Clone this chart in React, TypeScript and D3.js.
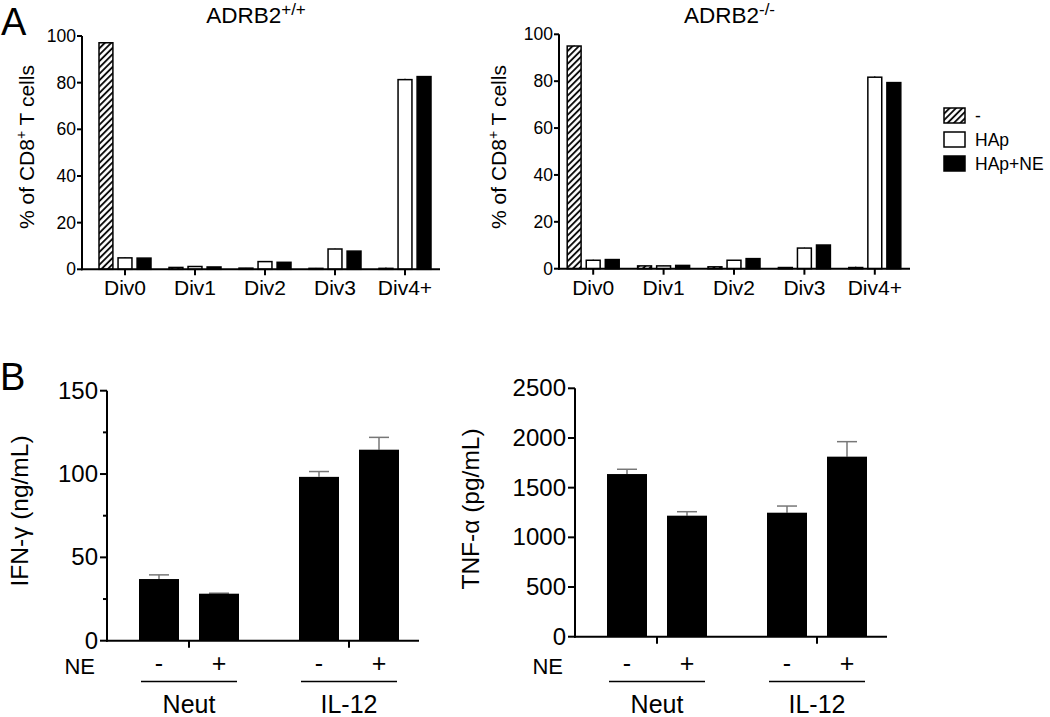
import * as d3 from "d3";

const FONT = "'Liberation Sans', Arial, Helvetica, sans-serif";

// ---- panel A data (% of CD8+ T cells per division) ----
const divisions = ["Div0", "Div1", "Div2", "Div3", "Div4+"];
const treatments = ["-", "HAp", "HAp+NE"];

const wtNone = [97.1, 0.8, 0.5, 0.4, 0.4];
const wtHAp = [4.9, 1.2, 3.3, 8.7, 81.3];
const wtHApNE = [4.8, 1.0, 3.0, 7.8, 82.6];
const wtErr = [0.3, 0.1, 0.1, 0.2, 0.4];

const koNone = [95.0, 1.2, 0.8, 0.5, 0.5];
const koHAp = [3.6, 1.2, 3.6, 8.8, 81.7];
const koHApNE = [3.9, 1.4, 4.3, 10.1, 79.4];
const koErr = [0.3, 0.1, 0.1, 0.2, 0.4];

const pctTicks = [0, 20, 40, 60, 80, 100];

// ---- panel B data (cytokines) ----
const groups = ["Neut", "IL-12"];
const neLevels = ["-", "+"];

const ifnMean = [37.0, 28.2, 98.3, 114.6];
const ifnErr = [2.5, 0.3, 3.2, 7.4];
const ifnTicks = [0, 50, 100, 150];
const ifnMinor = [25, 75, 125];

const tnfMean = [1637, 1218, 1248, 1812];
const tnfErr = [48, 40, 67, 151];
const tnfTicks = [0, 500, 1000, 1500, 2000, 2500];

const fills = ["url(#hatch)", "#fff", "#000"];

type DivProps = {
  title: string;
  sup: string;
  series: number[][];
  err: number[];
  axisX: number;
  bandStart: number;
  axisEnd: number;
  y0: number;
  yTop: number;
  labelX: number;
  labelY: number;
};

function DivPanel(p: DivProps) {
  const { title, sup, series, err, axisX, bandStart, axisEnd, y0, yTop, labelX, labelY } = p;
  const y = d3.scaleLinear().domain([0, 100]).range([y0, yTop]);
  const x = d3.scaleBand<string>().domain(divisions).range([bandStart, axisEnd]);
  const inner = d3.scaleBand<string>().domain(treatments).range([-26, 26]).paddingInner(0.27);
  const cx = (d: string) => (x(d) || 0) + x.bandwidth() / 2;
  const mid = (axisX + axisEnd) / 2 - 5;

  return (
    <g>
      <text x={mid} y={22.5} fontSize={22.5} textAnchor="middle" fontFamily={FONT}>
        {title}
        <tspan fontSize={17} dy={-8}>{sup}</tspan>
      </text>
      {divisions.map((d, i) =>
        treatments.map((t, j) => {
          const v = series[j][i];
          const bx = cx(d) + (inner(t) || 0);
          return (
            <g key={d + t}>
              {j === 0 || j === 1 ? (
                <line
                  x1={bx + inner.bandwidth() / 2}
                  x2={bx + inner.bandwidth() / 2}
                  y1={y(v)}
                  y2={y(v + err[i])}
                  stroke="#000"
                  strokeWidth={1}
                />
              ) : null}
              <rect
                x={bx}
                y={y(v)}
                width={inner.bandwidth()}
                height={y0 - y(v)}
                fill={fills[j]}
                stroke="#000"
                strokeWidth={1.5}
              />
            </g>
          );
        })
      )}
      {/* axes */}
      <line x1={axisX} x2={axisX} y1={y0 + 1} y2={yTop} stroke="#000" strokeWidth={2} />
      <line x1={axisX - 1} x2={axisEnd} y1={y0} y2={y0} stroke="#000" strokeWidth={2} />
      {pctTicks.map((t) => (
        <g key={t}>
          <line x1={axisX - 5} x2={axisX} y1={y(t)} y2={y(t)} stroke="#000" strokeWidth={2} />
          <text x={axisX - 6} y={y(t) + 6} fontSize={17.5} textAnchor="end" fontFamily={FONT}>
            {t}
          </text>
        </g>
      ))}
      {divisions.map((d) => (
        <g key={d}>
          <line x1={cx(d)} x2={cx(d)} y1={y0} y2={y0 + 6} stroke="#000" strokeWidth={2} />
          <text x={cx(d)} y={y0 + 26} fontSize={21} textAnchor="middle" fontFamily={FONT}>
            {d}
          </text>
        </g>
      ))}
      <text
        transform={`translate(${labelX},${labelY}) rotate(-90)`}
        fontSize={21}
        textAnchor="middle"
        fontFamily={FONT}
      >
        % of CD8
        <tspan fontSize={14} dy={-8}>+</tspan>
        <tspan dy={8}> T cells</tspan>
      </text>
    </g>
  );
}

type CytoProps = {
  label: string;
  mean: number[];
  err: number[];
  max: number;
  ticks: number[];
  minor: number[];
  axisX: number;
  y0: number;
  yTop: number;
  labelX: number;
  labelY: number;
};

function CytoPanel(p: CytoProps) {
  const { label, mean, err, max, ticks, minor, axisX, y0, yTop, labelX, labelY } = p;
  const y = d3.scaleLinear().domain([0, max]).range([y0, yTop]);
  const x = d3.scaleBand<string>().domain(groups).range([axisX + 2, axisX + 322]);
  const inner = d3.scaleBand<string>().domain(neLevels).range([-50, 50]).paddingInner(1 / 3);
  const gc = (g: string) => (x(g) || 0) + x.bandwidth() / 2;

  return (
    <g>
      {groups.map((g, gi) =>
        neLevels.map((n, ni) => {
          const k = gi * 2 + ni;
          const bx = gc(g) + (inner(n) || 0);
          const c = bx + inner.bandwidth() / 2;
          return (
            <g key={g + n}>
              <line x1={c} x2={c} y1={y(mean[k])} y2={y(mean[k] + err[k])} stroke="#777" strokeWidth={1.5} />
              <line x1={c - 10} x2={c + 10} y1={y(mean[k] + err[k])} y2={y(mean[k] + err[k])} stroke="#777" strokeWidth={1.5} />
              <rect x={bx} y={y(mean[k])} width={inner.bandwidth()} height={y0 - y(mean[k])} fill="#000" />
              <text x={c} y={672} fontSize={25} textAnchor="middle" fontFamily={FONT}>
                {n}
              </text>
            </g>
          );
        })
      )}
      <line x1={axisX} x2={axisX} y1={y0 + 1} y2={yTop} stroke="#000" strokeWidth={2} />
      <line x1={axisX - 1} x2={axisX + 312} y1={y0} y2={y0} stroke="#000" strokeWidth={2} />
      {ticks.map((t) => (
        <g key={t}>
          <line x1={axisX - 7} x2={axisX} y1={y(t)} y2={y(t)} stroke="#000" strokeWidth={2} />
          <text x={axisX - 9} y={y(t) + 8} fontSize={24} textAnchor="end" fontFamily={FONT}>
            {t}
          </text>
        </g>
      ))}
      {minor.map((t) => (
        <line key={t} x1={axisX - 4} x2={axisX} y1={y(t)} y2={y(t)} stroke="#000" strokeWidth={2} />
      ))}
      {groups.map((g) => (
        <g key={g}>
          <line x1={gc(g)} x2={gc(g)} y1={y0} y2={y0 + 7} stroke="#000" strokeWidth={2} />
          <line x1={gc(g) - 48} x2={gc(g) + 48} y1={681.5} y2={681.5} stroke="#000" strokeWidth={1.5} />
          <text x={gc(g)} y={713} fontSize={25} textAnchor="middle" fontFamily={FONT}>
            {g}
          </text>
        </g>
      ))}
      <text x={axisX - 12} y={674} fontSize={22} textAnchor="end" fontFamily={FONT}>
        NE
      </text>
      <text
        transform={`translate(${labelX},${labelY}) rotate(-90)`}
        fontSize={24.5}
        textAnchor="middle"
        fontFamily={FONT}
      >
        {label}
      </text>
    </g>
  );
}

export default function App() {
  const legendY = [108, 132, 156];
  return (
    <svg
      width={1050}
      height={717}
      style={{ position: "absolute", left: 0, top: 0, background: "#fff" }}
    >
      <defs>
        <pattern
          id="hatch"
          patternUnits="userSpaceOnUse"
          width={4.5}
          height={4.5}
          patternTransform="rotate(45)"
        >
          <rect width={4.5} height={4.5} fill="#fff" />
          <line x1={1} x2={1} y1={0} y2={4.5} stroke="#000" strokeWidth={1.8} />
        </pattern>
      </defs>
      <rect width={1050} height={717} fill="#fff" />

      <text x={1} y={35} fontSize={38} fontFamily={FONT}>A</text>
      <text x={0} y={390} fontSize={38} fontFamily={FONT}>B</text>

      <DivPanel
        title="ADRB2"
        sup="+/+"
        series={[wtNone, wtHAp, wtHApNE]}
        err={wtErr}
        axisX={82}
        bandStart={90}
        axisEnd={440}
        y0={269.3}
        yTop={36}
        labelX={34}
        labelY={147}
      />
      <DivPanel
        title="ADRB2"
        sup="-/-"
        series={[koNone, koHAp, koHApNE]}
        err={koErr}
        axisX={559}
        bandStart={558}
        axisEnd={910}
        y0={268.7}
        yTop={34.3}
        labelX={506}
        labelY={147}
      />

      {treatments.map((t, i) => (
        <g key={t}>
          <rect
            x={944}
            y={legendY[i]}
            width={21}
            height={15}
            fill={fills[i]}
            stroke="#000"
            strokeWidth={1.5}
          />
          <text x={975} y={legendY[i] + 14} fontSize={17.5} fontFamily={FONT}>
            {t}
          </text>
        </g>
      ))}

      <CytoPanel
        label="IFN-γ (ng/mL)"
        mean={ifnMean}
        err={ifnErr}
        max={150}
        ticks={ifnTicks}
        minor={ifnMinor}
        axisX={107}
        y0={640.7}
        yTop={390.7}
        labelX={28}
        labelY={511}
      />
      <CytoPanel
        label="TNF-α (pg/mL)"
        mean={tnfMean}
        err={tnfErr}
        max={2500}
        ticks={tnfTicks}
        minor={[]}
        axisX={575}
        y0={636.7}
        yTop={388.3}
        labelX={479}
        labelY={509}
      />
    </svg>
  );
}
